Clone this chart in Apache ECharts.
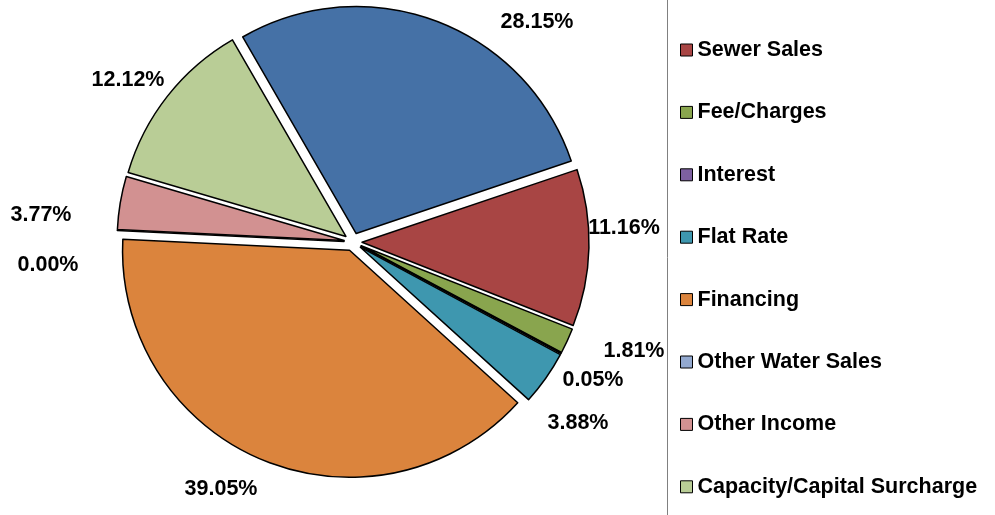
<!DOCTYPE html>
<html>
<head>
<meta charset="utf-8">
<script src="https://cdn.jsdelivr.net/npm/echarts@6/dist/echarts.min.js"></script>
<style>
  html, body { margin: 0; padding: 0; background: #fff; }
  #chart { width: 995px; height: 515px; }
</style>
</head>
<body>
<div id="chart"></div>
<script>
// slice names, clockwise from the blue slice
const names = ['Water Sales', 'Sewer Sales', 'Fee/Charges', 'Interest', 'Flat Rate',
  'Financing', 'Other Water Sales', 'Other Income', 'Capacity/Capital Surcharge']
const shares = [28.15, 11.16, 1.81, 0.05, 3.88, 39.05, 0.00, 3.77, 12.12]
const colors = ['#4571A6', '#A84544', '#89A54E', '#7D60A0', '#3E97AF',
  '#DB843D', '#93A9CF', '#D29191', '#B9CD96']
// legend shows everything except the first slice
const legendNames = names.slice(1)

// where excel put the percent labels (centre of text)
const labelSpots = [[537, 22], [624, 228], [634, 351], [593, 380], [578, 423],
  [221, 489], [48, 265], [41, 215], [128, 80]]

const font = 'Liberation Sans, Arial, sans-serif'

let myChart = echarts.init(document.getElementById('chart'))

// percent labels as text, same look as excel
let labelTexts = shares.map((v, i) => ({
  type: 'text',
  x: labelSpots[i][0],
  y: labelSpots[i][1],
  style: {
    text: v.toFixed(2) + '%',
    font: 'bold 21.5px ' + font,
    fill: '#000',
    align: 'center',
    verticalAlign: 'middle'
  }
}))

myChart.setOption({
  animation: false,
  backgroundColor: '#fff',
  legend: {
    orient: 'vertical',
    left: 680,
    top: 38,
    padding: 0,
    data: legendNames,
    icon: 'rect',
    itemWidth: 12,
    itemHeight: 12,
    itemGap: 38.4,
    selectedMode: false,
    itemStyle: { borderColor: '#000', borderWidth: 1 },
    textStyle: {
      fontFamily: font,
      fontWeight: 'bold',
      fontSize: 21.5,
      lineHeight: 24,
      color: '#000'
    }
  },
  graphic: [{
    type: 'line',
    shape: { x1: 667.5, y1: 0, x2: 667.5, y2: 515 },
    style: { stroke: '#808080', lineWidth: 1 }
  }].concat(labelTexts),
  series: [{
    type: 'pie',
    center: [353, 242],
    radius: 227,
    startAngle: 120,
    clockwise: true,
    selectedMode: 'multiple',
    selectedOffset: 9,
    avoidLabelOverlap: false,
    stillShowZeroSum: true,
    emphasis: { disabled: true },
    itemStyle: { borderColor: '#000', borderWidth: 1.5 },
    label: { show: false },
    labelLine: { show: false },
    data: names.map((n, i) => ({
      name: n,
      value: shares[i],
      selected: true,
      itemStyle: { color: colors[i] }
    }))
  }]
})
</script>
</body>
</html>
